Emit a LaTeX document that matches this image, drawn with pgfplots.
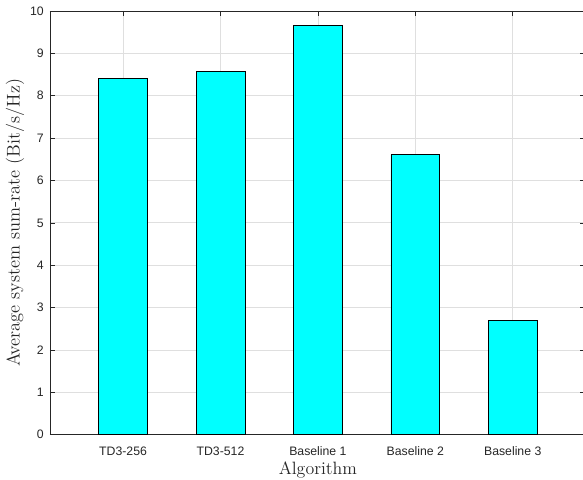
\documentclass[border=0pt]{standalone}
\usepackage{pgfplots}
\pgfplotsset{compat=1.18}
\usepackage{fontspec}
\newfontfamily\helv{Liberation Sans}
\definecolor{axgray}{RGB}{38,38,38}
\definecolor{gridgray}{RGB}{223,223,223}
\begin{document}
\begin{tikzpicture}
\begin{axis}[
  scale only axis,
  width=401.85pt, height=317.8pt,
  xmin=-0.75, xmax=4.75,
  ymin=0, ymax=10,
  ytick={0,1,...,10},
  xtick={0,1,2,3,4},
  xticklabels={TD3-256,TD3-512,Baseline 1,Baseline 2,Baseline 3},
  tick align=inside,
  major tick length=4pt,
  tick style={color=axgray, line width=0.5pt},
  axis line style={color=axgray, line width=0.6pt},
  grid=major,
  major grid style={color=gridgray, line width=0.6pt},
  /pgf/number format/assume math mode=true,
  ticklabel style={font=\helv\fontsize{9.2}{11}\selectfont, color=black!85},
  xticklabel style={anchor=base, yshift=-15.2pt},
  yticklabel style={anchor=east, inner sep=0pt, xshift=-4.5pt},
  xlabel={Algorithm},
  ylabel={Average system sum-rate (Bit/s/Hz)},
  label style={color=black!85},
  xlabel style={font=\fontsize{13.4}{16}\selectfont, at={(axis description cs:0.5,0)}, anchor=base, yshift=-29.5pt},
  ylabel style={font=\fontsize{13.8}{16}\selectfont, at={(axis description cs:0,0.5)}, anchor=center, yshift=26.25pt},
]
\addplot[ybar, bar width=0.5, fill={rgb,1:red,0;green,1;blue,1}, draw=black, line width=0.5pt]
  coordinates {(0,8.41) (1,8.57) (2,9.65) (3,6.61) (4,2.69)};
\end{axis}
\pgfresetboundingbox
\path[use as bounding box] ([xshift=-37.5pt,yshift=-33.2pt]current axis.south west) rectangle ([xshift=-2.1pt,yshift=8.25pt]current axis.north east);
\end{tikzpicture}
\end{document}
